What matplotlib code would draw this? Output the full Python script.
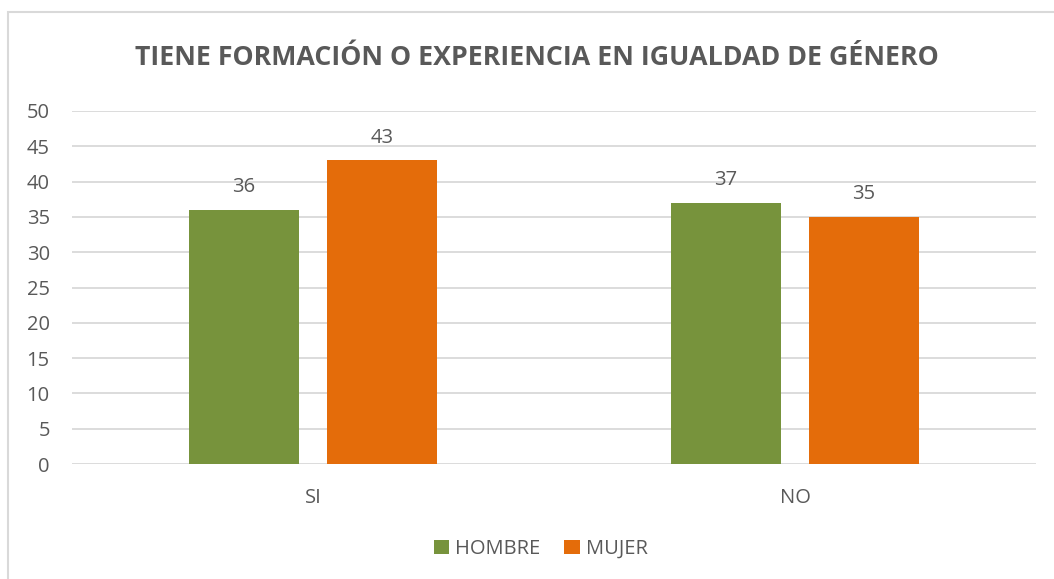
import numpy as np
import matplotlib.pyplot as plt
from matplotlib.patches import Rectangle

categories = ["SI", "NO"]
hombre = [36, 37]
mujer = [43, 35]
series_names = ["HOMBRE", "MUJER"]
yticks = [0, 5, 10, 15, 20, 25, 30, 35, 40, 45, 50]

TEXT = "#595959"
GREEN = "#77933C"
ORANGE = "#E46C0A"
FS = 14.5

plt.rcParams['font.family'] = ['Open Sans', 'DejaVu Sans']

fig = plt.figure(figsize=(10.54, 5.79), dpi=100)
fig.patch.set_facecolor("white")

# chart frame (cut off at right and bottom like the reference)
fig.patches.append(Rectangle((8 / 1054, -0.1), 1.2, 1 - 12 / 579 + 0.1,
                             transform=fig.transFigure, fill=False,
                             edgecolor="#d9d9d9", linewidth=1.5))

ax = fig.add_axes([72 / 1054, 1 - 464 / 579, (1036 - 72) / 1054, (464 - 111) / 579])

x = np.arange(len(categories))
w = 0.228
off = 0.143
b1 = ax.bar(x - off, hombre, w, color=GREEN, label=series_names[0], zorder=3)
b2 = ax.bar(x + off, mujer, w, color=ORANGE, label=series_names[1], zorder=3)

for bars in (b1, b2):
    for r in bars:
        ax.annotate(f"{int(r.get_height())}", (r.get_x() + r.get_width() / 2, r.get_height()),
                    xytext=(0, 9), textcoords="offset points", ha="center", va="bottom",
                    fontsize=FS, color=TEXT)

ax.set_xlim(-0.5, 1.5)
ax.set_ylim(0, 50)
ax.set_yticks(yticks)
ax.set_xticks(x)
ax.set_xticklabels(categories)
ax.tick_params(axis="both", length=0, labelsize=FS, labelcolor=TEXT)
ax.tick_params(axis="y", pad=16)
ax.tick_params(axis="x", pad=17)
ax.yaxis.grid(True, color="#d9d9d9", linewidth=1.3, zorder=0)
ax.set_axisbelow(True)
for s in ax.spines.values():
    s.set_visible(False)

fig.text(537 / 1054, 1 - 58 / 579, "TIENE FORMACIÓN O EXPERIENCIA EN IGUALDAD DE GÉNERO",
         ha="center", va="center", fontsize=19.3, fontweight="bold", color=TEXT)

fig.legend(handles=[b1, b2], loc="center", bbox_to_anchor=(0.513, 1 - 549 / 579),
           ncol=2, frameon=False, fontsize=FS, labelcolor=TEXT,
           handlelength=0.75, handleheight=0.75, handletextpad=0.3, columnspacing=1.2)

fig.savefig("out.png", dpi=100, facecolor="white")
